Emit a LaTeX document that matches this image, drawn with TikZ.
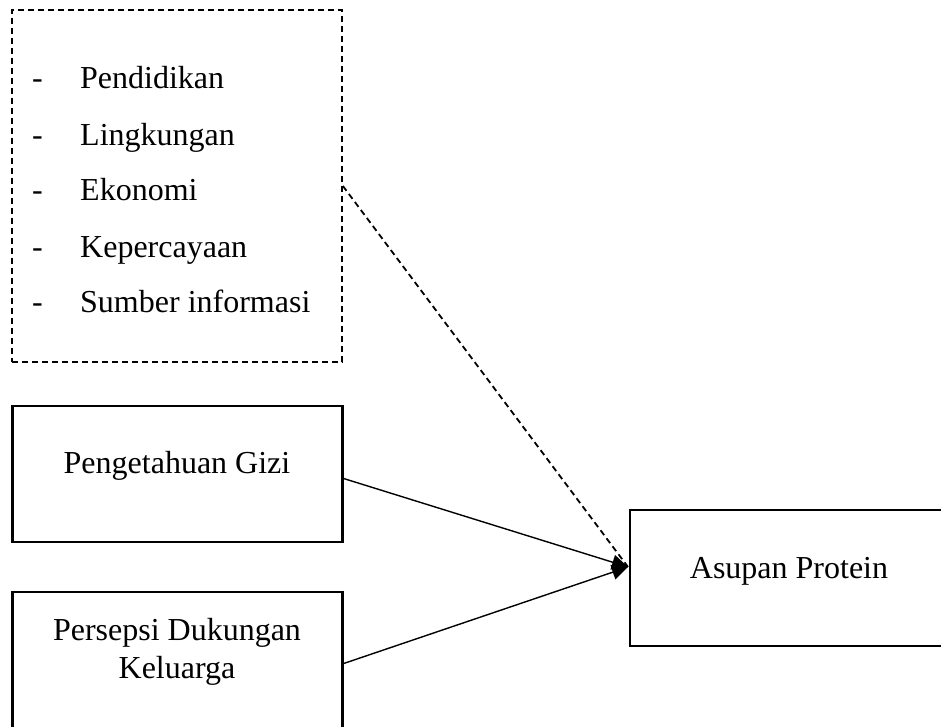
\documentclass[tikz,border=0pt]{standalone}
\usepackage{fontspec}
\setmainfont{Liberation Serif}
\usetikzlibrary{arrows.meta}
\begin{document}
\begin{tikzpicture}[x=1pt,y=-1pt,
  box/.style={draw, line width=2.4pt, rectangle, inner sep=0pt},
  dbox/.style={draw, line width=1.8pt, dash pattern=on 6pt off 4pt, rectangle, inner sep=0pt},
  txt/.style={anchor=base, inner sep=0pt, font=\fontsize{32}{38}\selectfont},
  ltxt/.style={anchor=base west, inner sep=0pt, font=\fontsize{32}{38}\selectfont},
  conn/.style={line width=1.4pt, -{Triangle[length=16pt,width=15pt]}},
  dconn/.style={line width=1.8pt, dash pattern=on 6pt off 4pt}]
\useasboundingbox (0,0) rectangle (941,727);
\clip (0,0) rectangle (941,727);
% dashed factor box
\node[dbox, minimum width=330pt, minimum height=352pt] (factors) at (177,186) {};
\foreach \y/\t [count=\i] in {89/Pendidikan, 146/Lingkungan, 201/Ekonomi, 257/Kepercayaan, 312/Sumber informasi}{
  \node[ltxt] (dash\i) at (32,\y) {-};
  \node[ltxt] (item\i) at (80,\y) {\t};
}
% boxes
\node[box, minimum width=330pt, minimum height=136pt] (gizi) at (177.5,474) {};
\node[txt] (gizit) at (177,473) {Pengetahuan Gizi};
\node[box, minimum width=330pt, minimum height=143pt] (kel) at (177.5,663.5) {};
\node[txt] (kelt1) at (177,640) {Persepsi Dukungan};
\node[txt] (kelt2) at (177,678) {Keluarga};
\node[box, minimum width=318pt, minimum height=136pt] (asup) at (789,578) {};
\node[txt] (asupt) at (789,578) {Asupan Protein};
% connectors
\coordinate (tip) at (628,567);
\coordinate (giziout) at (342,478);
\draw[conn] (giziout) -- (tip);
\draw[conn] (kel.east) -- (tip);
\draw[dconn] (factors.east) -- (tip);
\end{tikzpicture}
\end{document}
